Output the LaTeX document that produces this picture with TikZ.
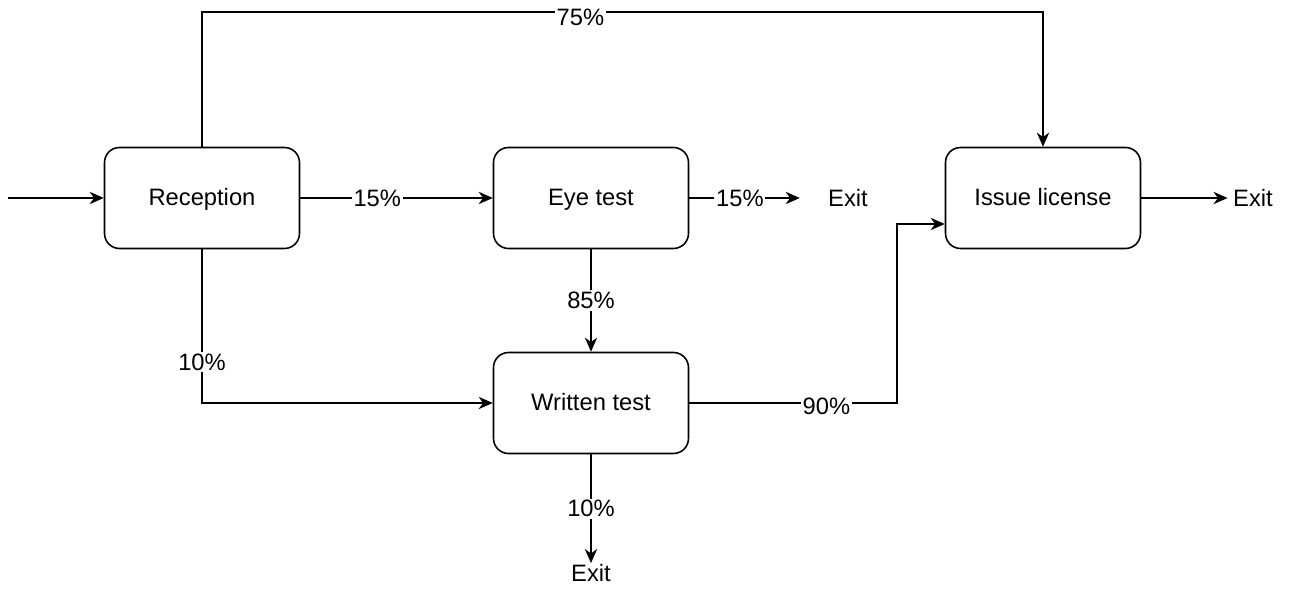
\documentclass[tikz,border=0pt]{standalone}
\usepackage{fontspec}
\setmainfont{Liberation Sans}
\usetikzlibrary{positioning,arrows.meta}

\tikzset{
  stage/.style={draw, rounded corners=0.3cm, line width=0.9pt,
    minimum width=3.9cm, minimum height=2.02cm, text height=0.8em, text depth=0pt},
  exitnode/.style={inner sep=3pt, text height=0.716em, text depth=0pt},
  arr/.style={-{Stealth[length=8pt,width=7pt,inset=2.5pt]}, line width=0.9pt},
  pct/.style={fill=white, inner sep=1pt}
}

\begin{document}
\begin{tikzpicture}[x=0.02cm, y=-0.02cm, font=\fontsize{13.5}{16}\selectfont]
  \useasboundingbox (0,0) rectangle (1289,590);

  \node[stage] (rec) at (202,198) {Reception};
  \node[stage] (eye) at (591,198) {Eye test};
  \node[stage] (iss) at (1043,198) {Issue license};
  \node[stage] (wri) at (591,403) {Written test};

  \node[exitnode] (exit1) at (848,200) {Exit};
  \node[exitnode] (exit2) at (1253,200) {Exit};
  \node[exitnode] (exit3) at (591,575) {Exit};

  \coordinate (start) at (8,198);
  \coordinate (top) at (202,12);
  \coordinate (bend) at (897,224);

  \draw[arr] (start) -- (rec.west);
  \draw[arr] (rec.east) -- (eye.west) node[pct, pos=0.4] {15\%};
  \draw[arr, shorten >=13pt] (eye.east) -- (eye.east -| exit1.west) node[pct, pos=0.38] {15\%};
  \draw[arr] (rec.north) -- (top) -| (iss.north) node[pct, pos=0.225, yshift=-0.1cm] {75\%};
  \draw[arr] (rec.south) |- (wri.west) node[pct, pos=0.367] {10\%};
  \draw[arr] (eye.south) -- (wri.north) node[pct, pos=0.5] {85\%};
  \draw[arr] (wri.east) -| node[pct, pos=0.33, yshift=-0.06cm] {90\%} (bend) -- (iss.west |- bend);
  \draw[arr] (wri.south) -- (exit3.north) node[pct, pos=0.5] {10\%};
  \draw[arr] (iss.east) -- (iss.east -| exit2.west);
\end{tikzpicture}
\end{document}
